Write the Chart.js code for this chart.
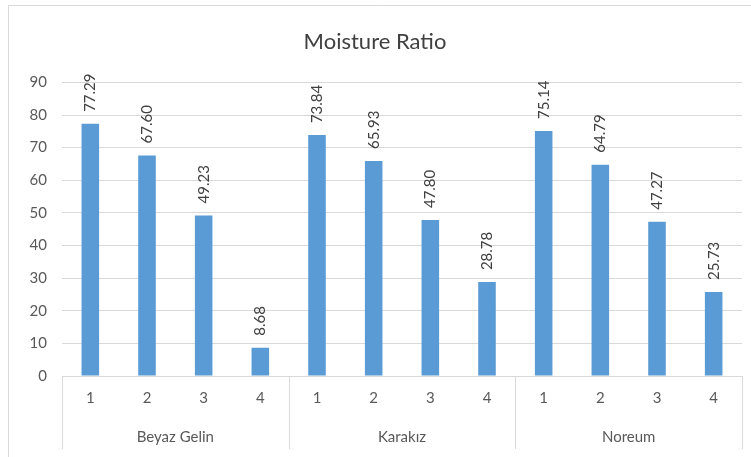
<!DOCTYPE html>
<html>
<head>
<meta charset="utf-8">
<script src="https://cdn.jsdelivr.net/npm/chart.js@4"></script>
<style>
  html, body { margin: 0; padding: 0; background: #fff; }
  #wrap { position: relative; width: 751px; height: 457px; }
</style>
</head>
<body>
<div id="wrap"><canvas id="chart" width="751" height="457"></canvas></div>
<script>
// Chart data
const groups = ['Beyaz Gelin', 'Karakız', 'Noreum'];
const steps = ['1', '2', '3', '4'];
const moistureValues = [77.29, 67.60, 49.23, 8.68, 73.84, 65.93, 47.80, 28.78, 75.14, 64.79, 47.27, 25.73];
const yTicks = [0, 10, 20, 30, 40, 50, 60, 70, 80, 90];

const labels = [];
groups.forEach(g => steps.forEach(s => labels.push(s)));

const gridColor = '#d9d9d9';
const textColor = '#595959';
const fontFamily = 'Lato, "Open Sans", sans-serif';

// Draws frame, value labels and the two-level category axis
const excelLook = {
  id: 'excelLook',
  beforeDraw(chart) {
    const ctx = chart.ctx;
    ctx.save();
    ctx.strokeStyle = gridColor;
    ctx.lineWidth = 1;
    ctx.beginPath();
    ctx.moveTo(8.5, 457);
    ctx.lineTo(8.5, 5.5);
    ctx.lineTo(751, 5.5);
    ctx.stroke();
    ctx.restore();
  },
  afterDatasetsDraw(chart) {
    const ctx = chart.ctx;
    const x = chart.scales.x;
    const area = chart.chartArea;
    const meta = chart.getDatasetMeta(0);

    ctx.save();
    // value labels, rotated
    ctx.fillStyle = '#404040';
    ctx.font = '15px ' + fontFamily;
    ctx.textAlign = 'left';
    ctx.textBaseline = 'middle';
    meta.data.forEach((bar, i) => {
      ctx.save();
      ctx.translate(bar.x, bar.y - 12);
      ctx.rotate(-Math.PI / 2);
      ctx.fillText(moistureValues[i].toFixed(2), 0, 0);
      ctx.restore();
    });

    // category axis
    const half = (x.getPixelForValue(1) - x.getPixelForValue(0)) / 2;
    ctx.strokeStyle = gridColor;
    ctx.lineWidth = 1;
    ctx.fillStyle = textColor;
    ctx.textAlign = 'center';
    ctx.textBaseline = 'middle';
    ctx.font = '15px ' + fontFamily;
    labels.forEach((lab, i) => {
      ctx.fillText(lab, x.getPixelForValue(i), area.bottom + 22);
    });
    groups.forEach((g, gi) => {
      const first = gi * steps.length;
      const last = first + steps.length - 1;
      const left = x.getPixelForValue(first) - half;
      const right = x.getPixelForValue(last) + half;
      ctx.fillText(g, (left + right) / 2, area.bottom + 61);
      [left, right].forEach(px => {
        ctx.beginPath();
        ctx.moveTo(Math.round(px) + 0.5, area.bottom);
        ctx.lineTo(Math.round(px) + 0.5, area.bottom + 73);
        ctx.stroke();
      });
    });
    ctx.restore();
  }
};

new Chart(document.getElementById('chart'), {
  type: 'bar',
  data: {
    labels,
    datasets: [{
      data: moistureValues,
      backgroundColor: '#5b9bd5',
      barPercentage: 0.62,
      categoryPercentage: 0.5
    }]
  },
  options: {
    responsive: false,
    animation: false,
    layout: { padding: { left: 8, right: 9, top: 0, bottom: 73 } },
    plugins: {
      legend: { display: false },
      tooltip: { enabled: false },
      title: {
        display: true,
        text: 'Moisture Ratio',
        color: '#404040',
        font: { family: fontFamily, size: 22, weight: 'normal' },
        padding: { top: 29, bottom: 27 }
      }
    },
    scales: {
      x: {
        grid: { display: false },
        border: { display: true, color: gridColor },
        ticks: { display: false }
      },
      y: {
        min: 0,
        max: 90,
        afterBuildTicks: scale => { scale.ticks = yTicks.map(v => ({ value: v })); },
        afterFit: scale => { scale.width = 54; },
        grid: { color: gridColor, drawTicks: false },
        border: { display: false },
        ticks: {
          color: textColor,
          padding: 15,
          font: { family: fontFamily, size: 15 }
        }
      }
    }
  },
  plugins: [excelLook]
});
</script>
</body>
</html>
